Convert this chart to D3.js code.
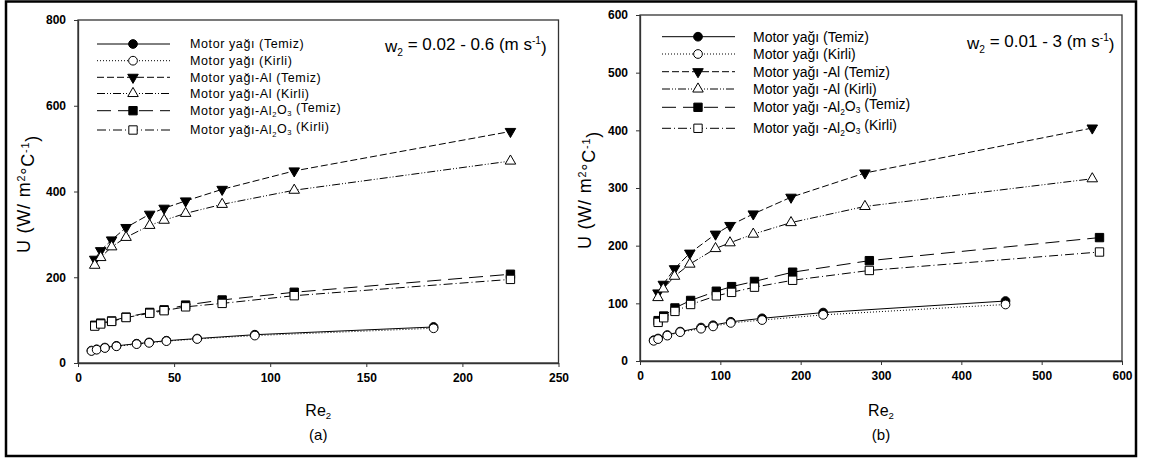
<!DOCTYPE html>
<html>
<head>
<meta charset="utf-8">
<script src="https://cdn.jsdelivr.net/npm/d3@7"></script>
<style>
  body { margin: 0; background: #fff; }
  text { font-family: "Liberation Sans", Arial, sans-serif; fill: #000; }
</style>
</head>
<body>
<div id="chart"></div>
<script>
// legend names
const namesA = ["Motor yağı (Temiz)", "Motor yağı (Kirli)", "Motor yağı-Al (Temiz)", "Motor yağı-Al (Kirli)", "Motor yağı-Al|2|O|3| (Temiz)", "Motor yağı-Al|2|O|3| (Kirli)"];
const namesB = ["Motor yağı (Temiz)", "Motor yağı (Kirli)", "Motor yağı -Al (Temiz)", "Motor yağı -Al (Kirli)", "Motor yağı -Al|2|O|3| (Temiz)", "Motor yağı -Al|2|O|3| (Kirli)"];

// panel (a) w2 = 0.02 - 0.6
const reA_oil = [7, 9.7, 14, 20, 30.5, 37, 46, 62, 92, 185];
const uA_oilTemiz = [29, 32, 36, 40, 45, 48, 52, 57, 66, 84];
const uA_oilKirli = [28, 31, 35, 39, 44, 47, 51, 56, 64, 81];
const reA_nano = [8.7, 11.8, 17.5, 25, 37.3, 44.8, 56, 75, 112.5, 225];
const uA_alTemiz = [242, 262, 287, 316, 347, 361, 378, 405, 448, 540];
const uA_alKirli = [228, 246, 271, 293, 321, 333, 349, 370, 403, 471];
const uA_al2o3Temiz = [88, 93, 98, 107, 118, 124, 135, 147, 165, 207];
const uA_al2o3Kirli = [86, 91, 97, 106, 116, 122, 131, 139, 157, 195];

// panel (b) w2 = 0.01 - 3
const reB_oil = [17, 22.5, 34, 50, 76, 91, 113, 152, 228, 455];
const uB_oilTemiz = [36, 39, 45, 51, 58, 62, 68, 74, 84, 104];
const uB_oilKirli = [35, 38, 44, 50, 56, 60, 66, 71, 80, 98];
const reB_al = [22.4, 29, 43, 62, 94, 112, 141, 188, 280, 563];
const uB_alTemiz = [118, 133, 160, 187, 220, 235, 255, 284, 326, 404];
const uB_alKirli = [110, 125, 147, 168, 195, 205, 220, 240, 268, 316];
const reB_al2o3 = [22.5, 29.5, 43.5, 63, 95, 114, 142.5, 190, 285.5, 572];
const uB_al2o3Temiz = [70, 78, 92, 105, 121, 129, 138, 154, 174, 214];
const uB_al2o3Kirli = [67, 75, 86, 98, 113, 119, 128, 140, 157, 189];

const ticksA_x = [0, 50, 100, 150, 200, 250], ticksA_y = [0, 200, 400, 600, 800];
const ticksB_x = [0, 100, 200, 300, 400, 500, 600], ticksB_y = [0, 100, 200, 300, 400, 500, 600];

// line / marker styles per series (same order as legend)
const styles = [
  { dash: null, sym: "circle", fill: "#000" },
  { dash: "1,2", sym: "circle", fill: "#fff" },
  { dash: "7,3", sym: "down", fill: "#000" },
  { dash: "8,2,1,2,1,2", sym: "up", fill: "#fff" },
  { dash: "14,7", sym: "square", fill: "#000" },
  { dash: "9,3,1,3", sym: "square", fill: "#fff" }
];

const width = 1152, height = 461;
const svg = d3.select("#chart").append("svg").attr("width", width).attr("height", height);

svg.append("rect").attr("x", 6).attr("y", 1.5).attr("width", 1130).attr("height", 454.5)
  .attr("fill", "none").attr("stroke", "#000").attr("stroke-width", 2.5);

function marker(g, sym, fill, cx, cy) {
  let s;
  if (sym === "circle") s = d3.symbol(d3.symbolCircle, 60);
  else if (sym === "square") s = d3.symbol(d3.symbolSquare, 70);
  else s = d3.symbol(d3.symbolTriangle, 48);
  g.append("path").attr("d", s())
    .attr("transform", `translate(${cx},${cy})` + (sym === "down" ? " rotate(180)" : ""))
    .attr("fill", fill).attr("stroke", "#000").attr("stroke-width", 1);
}

function richText(t, str) {
  // "a|2|b|3|c" -> subscripts in odd slots
  str.split("|").forEach((part, i) => {
    if (!part) return;
    const ts = t.append("tspan").text(part);
    if (i % 2 === 1) ts.attr("font-size", "0.6em").attr("dy", "0.3em");
    else if (i > 0) ts.attr("dy", "-0.3em");
  });
}

function drawPanel(p) {
  const x = d3.scaleLinear().domain(p.xDomain).range([p.left, p.right]);
  const y = d3.scaleLinear().domain(p.yDomain).range([p.bottom, p.top]);

  svg.append("rect").attr("x", p.left).attr("y", p.top)
    .attr("width", p.right - p.left).attr("height", p.bottom - p.top)
    .attr("fill", "none").attr("stroke", "#333").attr("stroke-width", 1.3);

  const xa = svg.append("g").attr("transform", `translate(0,${p.bottom})`)
    .call(d3.axisBottom(x).tickValues(p.xTicks).tickSize(4).tickSizeOuter(0).tickPadding(6));
  const ya = svg.append("g").attr("transform", `translate(${p.left},0)`)
    .call(d3.axisLeft(y).tickValues(p.yTicks).tickSize(4).tickSizeOuter(0).tickPadding(8));
  [xa, ya].forEach(a => {
    a.select(".domain").attr("stroke", "#333").attr("stroke-width", 1.3);
    a.selectAll(".tick line").attr("stroke", "#333");
    a.selectAll(".tick text").attr("font-size", 12).attr("font-weight", "bold")
      .attr("fill", "#1a1a1a").style("font-family", "'Liberation Sans', Arial, sans-serif");
  });

  const line = d3.line().x(d => x(d[0])).y(d => y(d[1]));
  const plot = svg.append("g");
  p.series.forEach((s, i) => {
    const st = styles[i];
    const pts = s.re.map((r, k) => [r, s.u[k]]);
    plot.append("path").datum(pts).attr("d", line)
      .attr("fill", "none").attr("stroke", "#000").attr("stroke-width", 1)
      .attr("stroke-dasharray", st.dash);
  });
  p.series.forEach((s, i) => {
    const st = styles[i];
    s.re.forEach((r, k) => marker(plot, st.sym, st.fill, x(r), y(s.u[k])));
  });

  // legend
  p.names.forEach((n, i) => {
    const st = styles[i], ly = p.legRows[i];
    svg.append("line").attr("x1", p.legX[0]).attr("x2", p.legX[1]).attr("y1", ly).attr("y2", ly)
      .attr("stroke", "#000").attr("stroke-width", 1).attr("stroke-dasharray", st.dash);
    marker(svg, st.sym, st.fill, p.legX[2], ly);
    const t = svg.append("text").attr("x", p.legText).attr("y", ly).attr("dy", "0.35em")
      .attr("font-size", p.legFont).attr("letter-spacing", p.legSpacing);
    richText(t, n);
  });

  // w2 note
  const w = svg.append("text").attr("x", p.wPos[0]).attr("y", p.wPos[1]).attr("dy", "0.35em")
    .attr("font-size", 17);
  w.append("tspan").text("w");
  w.append("tspan").text("2").attr("font-size", "0.6em").attr("dy", "0.35em");
  w.append("tspan").text(" = " + p.wRange + " (m s").attr("dy", "-0.35em");
  w.append("tspan").text("-1").attr("font-size", "0.6em").attr("dy", "-0.5em");
  w.append("tspan").text(")").attr("dy", "0.5em");

  // y title
  const yt = svg.append("text").attr("text-anchor", "middle").attr("font-size", 18)
    .attr("letter-spacing", 0.8)
    .attr("transform", `translate(${p.yTitle[0]},${p.yTitle[1]}) rotate(-90)`).attr("dy", "0.35em");
  yt.append("tspan").text("U (W/ m");
  yt.append("tspan").text("2").attr("font-size", "0.6em").attr("dy", "-0.5em");
  yt.append("tspan").text("°C").attr("dy", "0.5em");
  yt.append("tspan").text("-1").attr("font-size", "0.6em").attr("dy", "-0.5em");
  yt.append("tspan").text(")").attr("dy", "0.5em");

  // x title
  const cx = (p.left + p.right) / 2;
  const xt = svg.append("text").attr("x", cx).attr("y", 416).attr("text-anchor", "middle").attr("font-size", 16);
  xt.append("tspan").text("Re");
  xt.append("tspan").text("2").attr("font-size", "0.6em").attr("dy", "0.35em");
  svg.append("text").attr("x", cx).attr("y", 440).attr("text-anchor", "middle")
    .attr("font-size", 15).text(p.tag);
}

drawPanel({
  left: 78, right: 558.5, top: 20, bottom: 363,
  xDomain: [0, 250], yDomain: [0, 800], xTicks: ticksA_x, yTicks: ticksA_y,
  series: [
    { re: reA_oil, u: uA_oilTemiz }, { re: reA_oil, u: uA_oilKirli },
    { re: reA_nano, u: uA_alTemiz }, { re: reA_nano, u: uA_alKirli },
    { re: reA_nano, u: uA_al2o3Temiz }, { re: reA_nano, u: uA_al2o3Kirli }
  ],
  names: namesA, legX: [97, 170, 133], legRows: [44, 60.7, 77.3, 93.5, 110.7, 130],
  legText: 190, legFont: 12.5, legSpacing: 0.6,
  wPos: [385, 46], wRange: "0.02 - 0.6", yTitle: [24, 194], tag: "(a)"
});

drawPanel({
  left: 640, right: 1122, top: 15, bottom: 361,
  xDomain: [0, 600], yDomain: [0, 600], xTicks: ticksB_x, yTicks: ticksB_y,
  series: [
    { re: reB_oil, u: uB_oilTemiz }, { re: reB_oil, u: uB_oilKirli },
    { re: reB_al, u: uB_alTemiz }, { re: reB_al, u: uB_alKirli },
    { re: reB_al2o3, u: uB_al2o3Temiz }, { re: reB_al2o3, u: uB_al2o3Kirli }
  ],
  names: namesB, legX: [662, 735, 698], legRows: [36.7, 54, 71.7, 89, 107.3, 128.3],
  legText: 753, legFont: 14, legSpacing: 0,
  wPos: [967, 43], wRange: "0.01 - 3", yTitle: [585, 190], tag: "(b)"
});
</script>
</body>
</html>
